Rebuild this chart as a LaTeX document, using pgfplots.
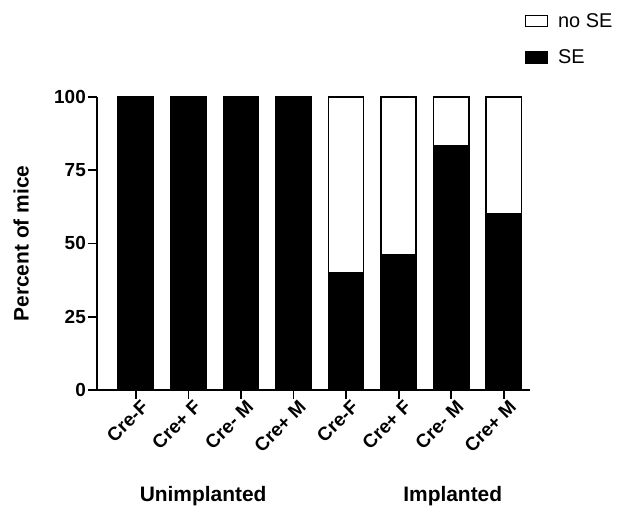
\documentclass[border=0pt]{standalone}
\usepackage{fontspec}
\setmainfont{Liberation Sans}
\usepackage{pgfplots}
\pgfplotsset{compat=1.18}
\begin{document}
\begin{tikzpicture}
\begin{axis}[
  scale only axis, width=433bp, height=293bp,
  ybar stacked, bar width=0.67,
  xmin=-0.74, xmax=7.5, ymin=0, ymax=100,
  axis lines*=left, axis line style={line width=1.8bp},
  ytick={0,25,50,75,100},
  xtick={0,...,7},
  xticklabels={Cre-F,Cre+ F,Cre- M,Cre+ M,Cre-F,Cre+ F,Cre- M,Cre+ M},
  xticklabel style={rotate=45, anchor=north east, font=\bfseries\fontsize{19}{19}\selectfont, xshift=4bp, yshift=-2bp, inner sep=1bp},
  yticklabel style={font=\bfseries\fontsize{19}{19}\selectfont, inner sep=2bp},
  /pgf/number format/assume math mode=true,
  tick style={line width=1.8bp, black},
  major tick length=9bp, tick align=outside,
  ylabel={\bfseries Percent of mice},
  ylabel style={font=\fontsize{21}{21}\selectfont, at={(axis description cs:-0.175,0.5)}, anchor=center},
  clip=false,
  legend style={draw=none, fill=none, at={(axis description cs:0.98,1.30)}, anchor=north west,
    font=\fontsize{20}{20}\selectfont, row sep=17bp, column sep=8bp, cells={anchor=west}},
  legend image code/.code={\draw[#1, line width=1.6bp] (0bp,-5.5bp) rectangle (22bp,5.5bp);},
  reverse legend,
]
\addplot[fill=black, draw=black, line width=1.6bp] coordinates {(0,100) (1,100) (2,100) (3,100) (4,40) (5,46.2) (6,83.3) (7,60)};
\addlegendentry{SE}
\addplot[fill=white, draw=black, line width=1.6bp] coordinates {(0,0) (1,0) (2,0) (3,0) (4,60) (5,53.8) (6,16.7) (7,40)};
\addlegendentry{no SE}
\node[font=\bfseries\fontsize{21}{21}\selectfont] at (axis cs:1.28,-36.2) {Unimplanted};
\node[font=\bfseries\fontsize{21}{21}\selectfont] at (axis cs:6.03,-36.2) {Implanted};
\path (rel axis cs:-0.224,-0.423) rectangle (rel axis cs:1.261,1.331);
\end{axis}
\end{tikzpicture}
\end{document}
